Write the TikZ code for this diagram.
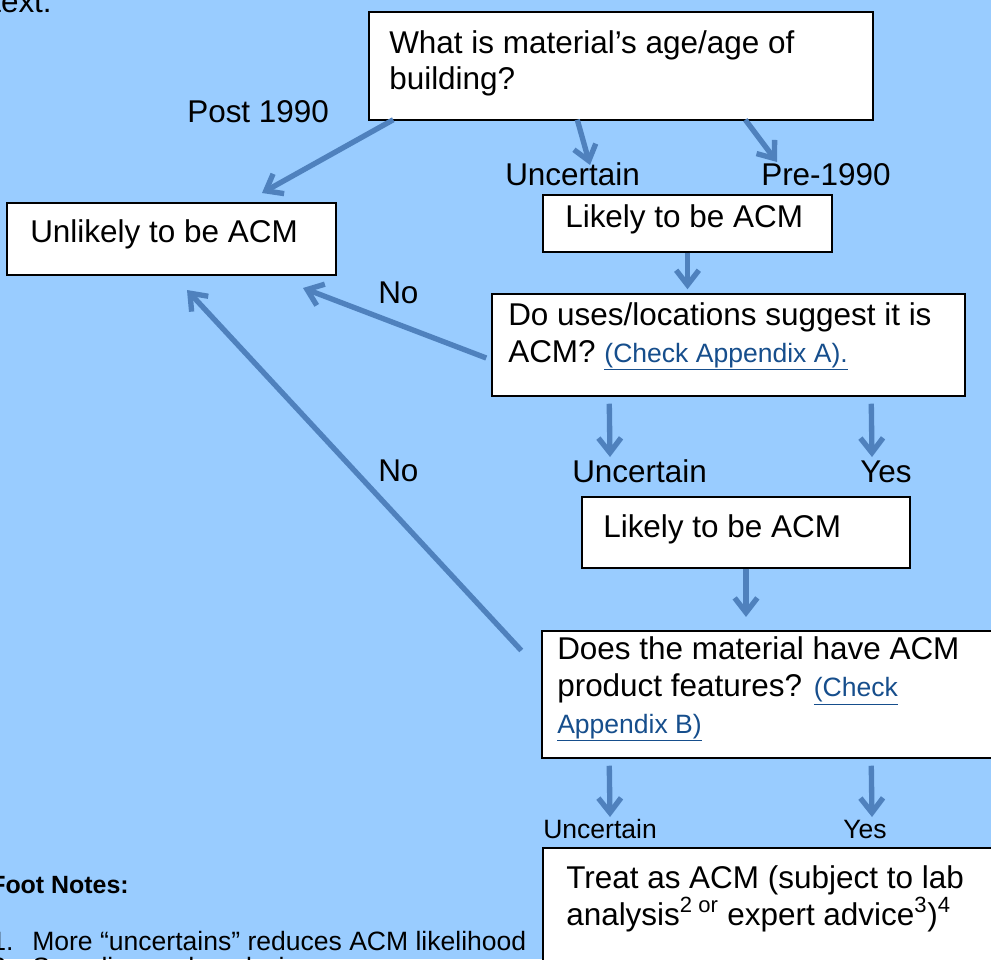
\documentclass[tikz,border=0pt]{standalone}
\usepackage{fontspec}
\setmainfont{Liberation Sans}
\usetikzlibrary{arrows.meta,fit,calc}
\definecolor{pagebg}{RGB}{153,204,255}
\definecolor{flowblue}{RGB}{79,129,189}
\definecolor{linkblue}{RGB}{22,78,140}
\newcommand{\bigsize}{\fontsize{23.6}{27.4}\selectfont}
\newcommand{\smallsize}{\fontsize{19.9}{24}\selectfont}
\newcommand{\applink}[1]{\textcolor{linkblue}{\underline{#1}}}

\begin{document}
\begin{tikzpicture}[x=0.75pt,y=-0.75pt,
  box/.style={draw=black,line width=1.1pt,fill=white,inner sep=0pt},
  txt/.style={anchor=base west,inner sep=0pt,font=\bigsize,align=left},
  note/.style={anchor=base west,inner sep=0pt,font=\smallsize},
  flow/.style={draw=flowblue,line width=4pt,-{Straight Barb[length=11pt,width=17pt]}}]
\useasboundingbox (0,0) rectangle (991,959);
\clip (0,0) rectangle (991,959);
\fill[pagebg] (0,0) rectangle (991,959);

% boxes
\node[box,fit={(369,12)(873,120)}] (q1) {};
\node[box,fit={(543,195)(832,252)}] (lik1) {};
\node[box,fit={(7,203)(336,275)}] (unl) {};
\node[box,fit={(492,294)(965,396)}] (chk1) {};
\node[box,fit={(582,497)(910,568)}] (lik2) {};
\node[box,fit={(542,631)(1000,758)}] (chk2) {};
\node[box,fit={(543,848)(1000,990)}] (treat) {};

% box texts (multi-line ones sit on their last baseline)
\node[txt] (q1t) at (389,90) {What is material’s age/age of\\building?};
\node[txt] (lik1t) at (565,228) {Likely to be ACM};
\node[txt] (unlt) at (30,243) {Unlikely to be ACM};
\node[txt] (chk1t) at (508,362) {Do uses/locations suggest it is\\ACM? {\smallsize\applink{(Check Appendix A).}}};
\node[txt] (lik2t) at (603,537) {Likely to be ACM};
\node[txt] (chk2t) at (557,733) {Does the material have ACM\\product features? {\smallsize\applink{(Check}}\\{\smallsize\applink{Appendix B)}}};
\node[txt] (treatt) at (566,925) {Treat as ACM (subject to lab\\analysis\textsuperscript{2 or} expert advice\textsuperscript{3})\textsuperscript{4}};

% arrow ends
\coordinate (postE) at (262,193);
\coordinate (unc1E) at (590,165);
\coordinate (pre1E) at (777,162);
\coordinate (no1E) at (303,288);
\coordinate (no2E) at (187,290);
\coordinate (unc2E) at (610,457);
\coordinate (yes2E) at (872,457);
\coordinate (unc3E) at (610,817);
\coordinate (yes3E) at (872,817);

% connectors
\draw[flow] ($(q1.south west)+(25,-1)$) -- (postE);
\draw[flow] ($(q1.south west)+(209,-1)$) -- (unc1E);
\draw[flow] ($(q1.south west)+(377,-1)$) -- (pre1E);
\draw[flow,shorten >=3pt] (lik1.south) -- (lik1.south |- chk1.north);
\draw[flow] ($(chk1.west)+(-5,13)$) -- (no1E);
\draw[flow] ($(chk2.west)+(-20,-44)$) -- (no2E);
\draw[flow] ($(chk1.south west)+(118,7)$) -- (unc2E);
\draw[flow] ($(chk1.south west)+(380,7)$) -- (yes2E);
\draw[flow,shorten >=10pt] (lik2.south) -- (lik2.south |- chk2.north);
\draw[flow] ($(chk2.south west)+(68,7)$) -- (unc3E);
\draw[flow] ($(chk2.south west)+(330,7)$) -- (yes3E);

% labels
\node[txt] (post) at (187,123) {Post 1990};
\node[txt] (unc1) at (505,186) {Uncertain};
\node[txt] (pre1) at (761,186) {Pre-1990};
\node[txt] (no1) at (378,303) {No};
\node[txt] (no2) at (378,481) {No};
\node[txt] (unc2) at (572,482) {Uncertain};
\node[txt] (yes2) at (860,482) {Yes};
\node[note] (unc3) at (543,838) {Uncertain};
\node[note] (yes3) at (843,838) {Yes};

% cut-off page text
\node[anchor=base east,inner sep=0pt,font=\bigsize] (lead) at (52,13) {text:};
\node[anchor=base west,inner sep=0pt,font=\fontsize{18.7}{22}\selectfont\bfseries] (fnhead) at (-10,893) {Foot Notes:};
\node[note] (fn1n) at (-9,950) {1.};
\node[note] (fn1) at (32,950) {More “uncertains” reduces ACM likelihood};
\node[note] (fn2n) at (-9,976) {2.};
\node[note] (fn2) at (32,976) {Sampling and analysis};
\end{tikzpicture}
\end{document}
